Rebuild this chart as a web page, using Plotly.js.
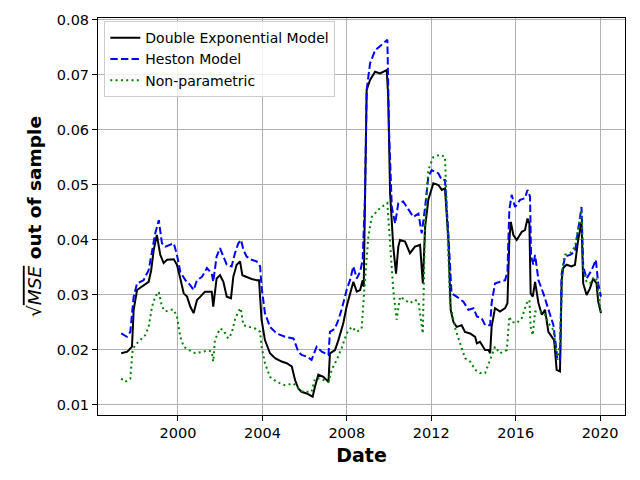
<!DOCTYPE html>
<html>
<head>
<meta charset="utf-8">
<script src="https://cdn.plot.ly/plotly-3.0.1.min.js"></script>
<style>html,body{margin:0;padding:0;background:#fff;}#chart{width:640px;height:480px;}</style>
</head>
<body>
<div id="chart"></div>
<script>
// Double Exponential Model
var deX = [1997.31,1997.45,1997.60,1997.82,1997.90,1998.06,1998.29,1998.61,1998.73,1998.85,1999.00,1999.16,1999.32,1999.48,1999.80,1999.95,2000.11,2000.27,2000.43,2000.58,2000.74,2000.90,2001.06,2001.28,2001.60,2001.67,2001.83,2001.99,2002.15,2002.31,2002.51,2002.62,2002.78,2002.94,2003.05,2003.25,2003.49,2003.73,2003.84,2003.96,2004.12,2004.36,2004.60,2004.91,2005.15,2005.39,2005.55,2005.70,2005.85,2006.10,2006.38,2006.49,2006.65,2006.89,2007.13,2007.20,2007.44,2007.60,2007.83,2007.99,2008.15,2008.31,2008.47,2008.63,2008.75,2008.80,2008.94,2009.10,2009.34,2009.57,2009.89,2009.96,2010.05,2010.20,2010.33,2010.44,2010.52,2010.76,2010.99,2011.23,2011.47,2011.60,2011.71,2011.86,2012.10,2012.34,2012.50,2012.65,2012.81,2012.92,2013.05,2013.20,2013.44,2013.60,2013.84,2014.08,2014.16,2014.31,2014.55,2014.71,2014.79,2014.86,2015.02,2015.26,2015.50,2015.61,2015.70,2015.77,2015.89,2016.05,2016.29,2016.44,2016.56,2016.65,2016.71,2016.81,2016.92,2017.08,2017.24,2017.39,2017.55,2017.71,2017.82,2017.91,2017.94,2018.10,2018.18,2018.25,2018.41,2018.65,2018.81,2018.96,2019.12,2019.20,2019.36,2019.52,2019.67,2019.83,2019.91,2020.04];
var deY = [0.0194,0.0196,0.0197,0.0206,0.0273,0.0309,0.0315,0.0324,0.0345,0.0382,0.0409,0.0373,0.0358,0.0364,0.0365,0.0355,0.0330,0.0303,0.0297,0.0279,0.0267,0.0291,0.0297,0.0306,0.0306,0.0279,0.0330,0.0336,0.0324,0.0297,0.0294,0.0333,0.0355,0.0361,0.0336,0.0333,0.0329,0.0327,0.0327,0.0255,0.0218,0.0194,0.0185,0.0179,0.0176,0.0170,0.0145,0.0130,0.0124,0.0121,0.0115,0.0133,0.0155,0.0151,0.0142,0.0194,0.0200,0.0218,0.0248,0.0279,0.0303,0.0324,0.0306,0.0309,0.0327,0.0315,0.0673,0.0691,0.0706,0.0703,0.0709,0.0661,0.0485,0.0388,0.0339,0.0388,0.0400,0.0397,0.0376,0.0388,0.0391,0.0321,0.0424,0.0473,0.0503,0.0500,0.0491,0.0494,0.0400,0.0273,0.0251,0.0242,0.0245,0.0233,0.0230,0.0224,0.0212,0.0215,0.0200,0.0200,0.0194,0.0242,0.0276,0.0270,0.0276,0.0285,0.0400,0.0433,0.0409,0.0400,0.0415,0.0418,0.0439,0.0430,0.0303,0.0297,0.0324,0.0285,0.0264,0.0273,0.0233,0.0224,0.0218,0.0179,0.0164,0.0161,0.0327,0.0349,0.0355,0.0352,0.0355,0.0400,0.0433,0.0321,0.0300,0.0312,0.0330,0.0321,0.0288,0.0267];

// Heston Model
var hestonX = [1997.31,1997.58,1997.74,1997.90,1998.06,1998.37,1998.61,1998.77,1998.92,1999.09,1999.24,1999.40,1999.80,1999.95,2000.11,2000.35,2000.58,2000.74,2000.90,2001.14,2001.37,2001.60,2001.67,2001.83,2001.99,2002.15,2002.31,2002.54,2002.70,2002.86,2002.99,2003.10,2003.25,2003.49,2003.73,2003.89,2003.96,2004.12,2004.36,2004.68,2005.07,2005.47,2005.70,2005.86,2006.10,2006.33,2006.57,2006.81,2007.13,2007.20,2007.44,2007.60,2007.75,2007.99,2008.15,2008.31,2008.47,2008.63,2008.75,2008.86,2008.94,2009.10,2009.34,2009.65,2009.92,2010.00,2010.13,2010.29,2010.44,2010.67,2010.91,2011.15,2011.39,2011.55,2011.71,2011.86,2012.02,2012.34,2012.50,2012.65,2012.81,2012.96,2013.20,2013.52,2013.76,2014.00,2014.16,2014.39,2014.55,2014.79,2014.86,2015.02,2015.26,2015.50,2015.61,2015.70,2015.81,2015.97,2016.21,2016.44,2016.56,2016.68,2016.73,2016.84,2016.92,2017.08,2017.31,2017.47,2017.63,2017.79,2017.91,2017.98,2018.10,2018.18,2018.34,2018.58,2018.81,2018.96,2019.12,2019.20,2019.36,2019.60,2019.80,2019.91,2020.04];
var hestonY = [0.0230,0.0224,0.0233,0.0297,0.0321,0.0327,0.0345,0.0382,0.0412,0.0436,0.0394,0.0388,0.0394,0.0373,0.0342,0.0327,0.0318,0.0309,0.0327,0.0333,0.0349,0.0339,0.0324,0.0370,0.0385,0.0370,0.0355,0.0352,0.0376,0.0394,0.0400,0.0382,0.0370,0.0364,0.0361,0.0352,0.0315,0.0267,0.0242,0.0230,0.0224,0.0221,0.0197,0.0191,0.0188,0.0182,0.0206,0.0197,0.0191,0.0233,0.0239,0.0255,0.0273,0.0309,0.0327,0.0352,0.0330,0.0342,0.0364,0.0479,0.0673,0.0721,0.0745,0.0755,0.0764,0.0600,0.0460,0.0430,0.0467,0.0470,0.0455,0.0442,0.0448,0.0412,0.0460,0.0515,0.0527,0.0521,0.0509,0.0509,0.0412,0.0303,0.0297,0.0288,0.0273,0.0276,0.0261,0.0258,0.0245,0.0245,0.0285,0.0321,0.0324,0.0327,0.0342,0.0455,0.0482,0.0460,0.0473,0.0476,0.0491,0.0479,0.0370,0.0355,0.0373,0.0327,0.0303,0.0285,0.0267,0.0245,0.0206,0.0182,0.0182,0.0339,0.0370,0.0373,0.0379,0.0421,0.0460,0.0352,0.0330,0.0345,0.0364,0.0321,0.0297];

// Non-parametric
var npX = [1997.31,1997.50,1997.74,1997.85,1997.97,1998.21,1998.45,1998.61,1998.77,1998.92,1999.09,1999.24,1999.40,1999.64,1999.80,1999.95,2000.11,2000.27,2000.51,2000.82,2001.14,2001.45,2001.60,2001.67,2001.75,2001.99,2002.15,2002.38,2002.54,2002.70,2002.86,2002.97,2003.10,2003.33,2003.65,2003.89,2003.96,2004.12,2004.36,2004.68,2005.07,2005.47,2005.70,2005.85,2006.02,2006.33,2006.49,2006.73,2007.13,2007.28,2007.52,2007.75,2007.99,2008.23,2008.47,2008.70,2008.86,2009.02,2009.18,2009.57,2009.92,2010.05,2010.20,2010.36,2010.52,2010.76,2010.99,2011.23,2011.39,2011.60,2011.71,2011.86,2012.10,2012.42,2012.65,2012.76,2012.89,2013.13,2013.36,2013.60,2013.84,2014.08,2014.31,2014.55,2014.79,2015.02,2015.26,2015.58,2015.70,2015.81,2016.05,2016.29,2016.52,2016.65,2016.71,2016.81,2016.92,2017.15,2017.39,2017.55,2017.79,2017.91,2017.98,2018.10,2018.22,2018.34,2018.58,2018.81,2018.96,2019.12,2019.20,2019.36,2019.52,2019.71,2019.86,2019.99,2020.07];
var npY = [0.0148,0.0142,0.0148,0.0200,0.0209,0.0218,0.0227,0.0242,0.0279,0.0297,0.0306,0.0279,0.0270,0.0273,0.0273,0.0261,0.0224,0.0206,0.0200,0.0194,0.0197,0.0199,0.0197,0.0179,0.0218,0.0239,0.0236,0.0221,0.0230,0.0255,0.0270,0.0276,0.0245,0.0242,0.0239,0.0233,0.0206,0.0176,0.0151,0.0142,0.0136,0.0139,0.0130,0.0125,0.0124,0.0124,0.0148,0.0148,0.0142,0.0164,0.0182,0.0203,0.0230,0.0242,0.0233,0.0239,0.0327,0.0406,0.0442,0.0458,0.0467,0.0388,0.0309,0.0255,0.0297,0.0291,0.0285,0.0291,0.0288,0.0230,0.0436,0.0527,0.0551,0.0555,0.0551,0.0436,0.0285,0.0240,0.0212,0.0185,0.0179,0.0164,0.0158,0.0158,0.0182,0.0206,0.0194,0.0200,0.0261,0.0251,0.0249,0.0258,0.0285,0.0291,0.0242,0.0227,0.0270,0.0270,0.0264,0.0249,0.0236,0.0194,0.0182,0.0212,0.0352,0.0373,0.0376,0.0388,0.0424,0.0455,0.0345,0.0324,0.0321,0.0333,0.0327,0.0279,0.0264];

var seriesNames = ["Double Exponential Model", "Heston Model", "Non-parametric"];
var xTicks = [2000, 2004, 2008, 2012, 2016, 2020];
var xTickLabels = ["2000", "2004", "2008", "2012", "2016", "2020"];
var yTicks = [0.01, 0.02, 0.03, 0.04, 0.05, 0.06, 0.07, 0.08];
var yTickLabels = ["0.01", "0.02", "0.03", "0.04", "0.05", "0.06", "0.07", "0.08"];

var traces = [
  {x: deX, y: deY, name: seriesNames[0], mode: "lines", line: {color: "#000000", width: 2}},
  {x: hestonX, y: hestonY, name: seriesNames[1], mode: "lines", line: {color: "#0000ff", width: 2, dash: "7.4px,3.2px"}},
  {x: npX, y: npY, name: seriesNames[2], mode: "lines", line: {color: "#008000", width: 2, dash: "2px,3.3px"}}
];

var font = "DejaVu Sans, sans-serif";
var layout = {
  width: 640, height: 480,
  margin: {l: 98, r: 15, t: 18, b: 65},
  paper_bgcolor: "#ffffff", plot_bgcolor: "#ffffff",
  font: {family: font, color: "#000000", size: 14.5},
  showlegend: true,
  legend: {
    x: 0.012, y: 0.992, xanchor: "left", yanchor: "top",
    bgcolor: "rgba(255,255,255,0.8)", bordercolor: "#cccccc", borderwidth: 1,
    font: {family: font, size: 14, color: "#000000"}
  },
  xaxis: {
    range: [1996.21, 2021.18],
    tickmode: "array", tickvals: xTicks, ticktext: xTickLabels,
    showgrid: true, gridcolor: "#b0b0b0", gridwidth: 1,
    zeroline: false, showline: true, linecolor: "#000000", linewidth: 1, mirror: true,
    ticks: "outside", ticklen: 5, tickcolor: "#000000",
    tickfont: {family: font, size: 14.5},
    title: {text: "<b>Date</b>", font: {family: font, size: 19}, standoff: 8}
  },
  yaxis: {
    range: [0.00818, 0.08036],
    tickmode: "array", tickvals: yTicks, ticktext: yTickLabels,
    showgrid: true, gridcolor: "#b0b0b0", gridwidth: 1,
    zeroline: false, showline: true, linecolor: "#000000", linewidth: 1, mirror: true,
    ticks: "outside", ticklen: 5, tickcolor: "#000000",
    tickfont: {family: font, size: 14.5},
    title: {text: "√<span style=\"text-decoration:overline\"><i>MSE</i></span><b> out of sample</b>", font: {family: font, size: 18.5}, standoff: 10}
  }
};

Plotly.newPlot("chart", traces, layout, {displayModeBar: false, staticPlot: true});
</script>
</body>
</html>
